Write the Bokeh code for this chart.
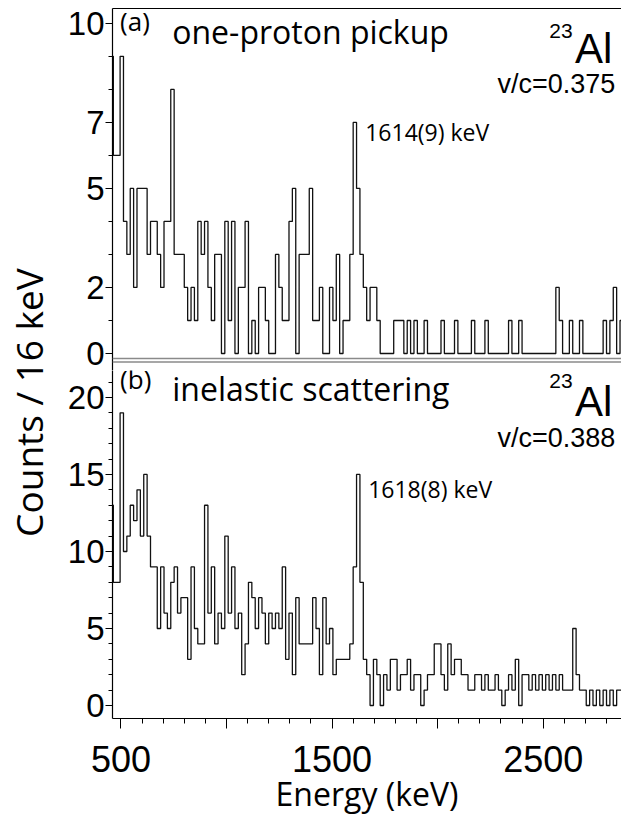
from math import pi
from bokeh.plotting import figure
from bokeh.models import Range1d, FixedTicker, LinearAxis, Label, Span
from bokeh.layouts import row, column
from bokeh.embed import file_html
from bokeh.resources import INLINE

# ---------------- data ----------------
bin_start_kev = 448
bin_width_kev = 16

counts_pickup = [
    9, 6, 6, 9, 4, 3, 5, 2, 5, 5,
    5, 3, 4, 4, 3, 2, 4, 4, 8, 3,
    3, 3, 2, 1, 2, 1, 4, 3, 4, 2,
    1, 3, 3, 0, 4, 1, 4, 0, 2, 2,
    4, 0, 1, 0, 2, 2, 1, 0, 0, 3,
    2, 1, 1, 4, 5, 0, 3, 3, 3, 5,
    1, 1, 2, 0, 0, 2, 1, 3, 0, 1,
    1, 3, 7, 5, 3, 2, 1, 2, 2, 1,
    0, 0, 0, 0, 1, 1, 1, 0, 1, 0,
    1, 0, 0, 1, 0, 0, 0, 0, 1, 0,
    0, 0, 1, 0, 0, 0, 0, 1, 0, 0,
    0, 1, 0, 0, 0, 0, 0, 0, 1, 0,
    0, 1, 0, 0, 0, 0, 0, 0, 0, 0,
    0, 0, 2, 1, 0, 0, 1, 0, 0, 1,
    0, 0, 0, 0, 0, 0, 1, 0, 1, 2,
    0, 1,
]

counts_inelastic = [
    13, 8, 8, 19, 10, 11, 13, 12, 14, 11,
    15, 11, 9, 9, 5, 9, 6, 5, 8, 9,
    6, 7, 7, 3, 9, 5, 4, 4, 13, 6,
    9, 4, 6, 5, 11, 6, 9, 5, 6, 2,
    4, 8, 7, 5, 7, 6, 4, 6, 5, 6,
    5, 9, 3, 6, 2, 7, 4, 4, 4, 4,
    7, 5, 2, 7, 4, 5, 2, 3, 3, 3,
    3, 4, 9, 15, 8, 3, 2, 0, 3, 2,
    0, 2, 1, 3, 3, 1, 2, 2, 3, 1,
    2, 2, 0, 1, 2, 2, 4, 4, 2, 1,
    4, 2, 3, 3, 2, 2, 1, 1, 2, 2,
    1, 2, 1, 1, 2, 1, 0, 1, 2, 1,
    3, 0, 2, 2, 1, 2, 1, 2, 1, 2,
    1, 2, 1, 2, 1, 1, 1, 5, 2, 1,
    1, 0, 1, 0, 1, 0, 1, 0, 1, 0,
    1, 1,
]

energy_ticks = [500, 1000, 1500, 2000, 2500]
energy_minor_ticks = [500, 600, 700, 800, 900, 1000, 1100, 1200, 1300, 1400,
                      1500, 1600, 1700, 1800, 1900, 2000, 2100, 2200, 2300,
                      2400, 2500, 2600, 2700, 2800]
energy_tick_labels = {1000: "", 2000: ""}
pickup_ticks = [0, 2, 5, 7, 10]
pickup_minor_ticks = [0, 1, 2, 3, 4, 5, 6, 7, 8, 9, 10]
inelastic_ticks = [0, 5, 10, 15, 20]
inelastic_minor_ticks = list(range(0, 22))

# ---------------- styles ----------------
TICK_FONT = "Liberation Sans"
SANS = "Open Sans"
HELV = "Liberation Sans"
SEP_GRAY = "#8a8a8a"

x_range = Range1d(460, 2871)


def step_xy(counts):
    xs = [bin_start_kev + bin_width_kev * i for i in range(len(counts) + 1)]
    ys = list(counts) + [counts[-1]]
    return xs, ys


def border_axis(color, width):
    return LinearAxis(ticker=FixedTicker(ticks=[]), axis_line_color=color,
                      axis_line_width=width, major_tick_line_color=None,
                      minor_tick_line_color=None, major_label_text_font_size="0px",
                      major_tick_out=0, minor_tick_out=0, major_label_standoff=0)


def label(p, x, y, text, font, size, align="left"):
    p.add_layout(Label(x=x, y=y, text=text, text_font=font, text_font_size=size,
                       text_align=align, text_baseline="alphabetic", text_color="black"))


def panel(frame_h, y_range, ticks, minor, top_border, bottom_border):
    p = figure(frame_width=509, frame_height=frame_h, x_range=x_range, y_range=y_range,
               output_backend="svg", toolbar_location=None,
               min_border_left=59, min_border_right=0,
               min_border_top=top_border, min_border_bottom=bottom_border,
               x_axis_location=None, y_axis_location="left")
    p.grid.visible = False
    p.outline_line_color = None
    p.background_fill_color = "white"
    p.border_fill_color = "white"
    ax = p.yaxis[0]
    ax.ticker = FixedTicker(ticks=ticks, minor_ticks=minor)
    ax.axis_line_color = "black"
    ax.axis_line_width = 1.2
    ax.major_tick_out = 7
    ax.major_tick_in = 0
    ax.minor_tick_out = 4
    ax.minor_tick_in = 0
    ax.major_tick_line_color = "black"
    ax.minor_tick_line_color = "black"
    ax.major_label_standoff = 1
    ax.major_label_text_font = TICK_FONT
    ax.major_label_text_font_size = "33px"
    ax.major_label_text_color = "black"
    return p


# ---------------- top panel ----------------
pa = panel(362, Range1d(-0.515, 10.45), pickup_ticks, pickup_minor_ticks, 8, 0)
pa.add_layout(border_axis("black", 1.2), "above")
pa.add_layout(Span(location=-0.152, dimension="width", line_color=SEP_GRAY, line_width=1.6))
pa.add_layout(Span(location=-0.258, dimension="width", line_color=SEP_GRAY, line_width=1.6))
xs, ys = step_xy(counts_pickup)
pa.step(xs, ys, mode="after", line_color="#111111", line_width=1.3)

label(pa, 496, 10.06, "(a)", SANS, "26px")
label(pa, 743, 9.75, "one-proton pickup", SANS, "32px")
label(pa, 2529, 9.78, "23", HELV, "21px")
label(pa, 2828, 9.24, "Al", HELV, "42px", "right")
label(pa, 2842, 8.15, "v/c=0.375", HELV, "27px", "right")
label(pa, 1657, 6.72, "1614(9) keV", SANS, "23px")

# ---------------- bottom panel ----------------
pb = panel(348, Range1d(-0.844, 21.75), inelastic_ticks, inelastic_minor_ticks, 0, 0)
xa = LinearAxis(ticker=FixedTicker(ticks=energy_ticks, minor_ticks=energy_minor_ticks),
                major_label_overrides=energy_tick_labels)
xa.axis_line_color = "black"
xa.axis_line_width = 1.2
xa.major_tick_out = 10
xa.major_tick_in = 0
xa.minor_tick_out = 5
xa.minor_tick_in = 0
xa.major_label_standoff = 17
xa.major_label_text_font = TICK_FONT
xa.major_label_text_font_size = "36px"
xa.major_label_text_color = "black"
xa.axis_label = "Energy (keV)"
xa.axis_label_text_font = SANS
xa.axis_label_text_font_size = "32px"
xa.axis_label_text_font_style = "normal"
xa.axis_label_text_color = "black"
xa.axis_label_standoff = -3
pb.add_layout(xa, "below")
xs, ys = step_xy(counts_inelastic)
pb.step(xs, ys, mode="after", line_color="#111111", line_width=1.3)

label(pb, 496, 21.2, "(b)", SANS, "26px")
label(pb, 743, 20.58, "inelastic scattering", SANS, "32px")
label(pb, 2529, 21.05, "23", HELV, "21px")
label(pb, 2828, 19.74, "Al", HELV, "42px", "right")
label(pb, 2842, 17.34, "v/c=0.388", HELV, "27px", "right")
label(pb, 1671, 14.05, "1618(8) keV", SANS, "23px")

# ---------------- y-axis title column ----------------
pt = figure(frame_width=53, frame_height=814, x_range=Range1d(0, 53),
            y_range=Range1d(814, 0), output_backend="svg", toolbar_location=None,
            min_border=0, x_axis_location=None, y_axis_location=None)
pt.grid.visible = False
pt.outline_line_color = None
pt.add_layout(Label(x=28, y=402, text="Counts / 16 keV", text_font=SANS,
                    text_font_size="37px", angle=pi / 2, text_align="center",
                    text_baseline="middle", text_color="black"))

layout = row(pt, column(pa, pb))
open("out.html", "w").write(file_html(layout, INLINE))
